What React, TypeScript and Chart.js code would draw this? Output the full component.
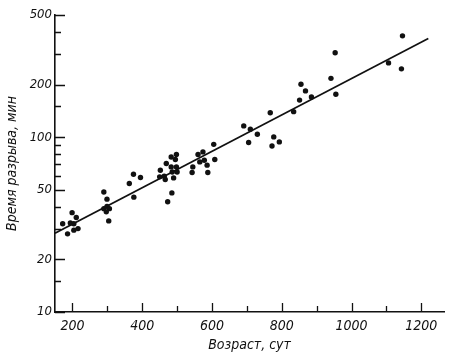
import React, { useEffect, useRef } from "react";
import { Chart, registerables } from "chart.js";

Chart.register(...registerables);

// Age (days) and rupture time (min)
const ageDays = [
  172, 199, 211, 194, 204, 216, 204, 186,
  290, 299, 290, 299, 306, 297, 304,
  363, 375, 395, 376,
  452, 450, 463, 469, 483, 498, 495, 483, 498, 486, 500, 466, 490, 485, 473,
  543, 545, 560, 574, 565, 578, 586, 588, 605, 608,
  691, 710, 705, 730, 767, 777, 793, 772, 834, 855, 868, 851, 885, 941, 953, 955,
  1106, 1146, 1143,
];
const ruptureMin = [
  32, 37, 34.7, 32.3, 32, 30, 29.4, 28,
  48.6, 44.2, 39, 40.2, 39, 37.4, 33.2,
  54.3, 61.4, 58.8, 45.4,
  64.7, 59.3, 59.8, 70.7, 77, 79.6, 74.5, 67.6, 67.6, 63.2, 63.2, 57.3, 58.5, 48, 42.7,
  62.8, 67.6, 79.6, 82.4, 72.2, 73.8, 69.2, 62.8, 91, 74.5,
  116, 111, 93.2, 104, 138, 100.4, 94, 89, 140, 201, 184, 163, 170, 217, 304, 176,
  266, 380, 246,
];

// Regression line end points
const fitX = [150, 1220];
const fitY = [28.2, 367];

// Tick values
const xMajorTicks = [200, 400, 600, 800, 1000, 1200];
const xMinorTicks = [300, 500, 700, 900, 1100];
const yMajorTicks = [10, 20, 50, 100, 200, 500];
const yMinorTicks = [15, 30, 40, 60, 70, 80, 90, 150, 300, 400];

const INK = "#111111";
const FONT = "'Liberation Sans Narrow', 'DejaVu Sans Condensed', sans-serif";

const inwardTicks = {
  id: "inwardTicks",
  afterDraw(chart: any) {
    const { ctx, chartArea } = chart;
    const xs = chart.scales.x;
    const ys = chart.scales.y;
    ctx.save();
    ctx.strokeStyle = INK;
    ctx.lineWidth = 1.3;
    ctx.beginPath();
    const b = chartArea.bottom;
    xMajorTicks.forEach((v) => {
      const px = Math.round(xs.getPixelForValue(v)) + 0.5;
      ctx.moveTo(px, b);
      ctx.lineTo(px, b - 9);
    });
    xMinorTicks.forEach((v) => {
      const px = Math.round(xs.getPixelForValue(v)) + 0.5;
      ctx.moveTo(px, b);
      ctx.lineTo(px, b - 6);
    });
    const l = chartArea.left;
    yMajorTicks.forEach((v) => {
      const py = Math.round(ys.getPixelForValue(v)) + 0.5;
      ctx.moveTo(l, py);
      ctx.lineTo(l + 10, py);
    });
    yMinorTicks.forEach((v) => {
      const py = Math.round(ys.getPixelForValue(v)) + 0.5;
      ctx.moveTo(l, py);
      ctx.lineTo(l + 6, py);
    });
    ctx.stroke();
    ctx.restore();
  },
};

export default function App() {
  const ref = useRef<HTMLCanvasElement>(null);

  useEffect(() => {
    document.body.style.margin = "0";
    const canvas = ref.current;
    if (!canvas) return;
    const chart = new Chart(canvas, {
      type: "scatter",
      data: {
        datasets: [
          {
            type: "scatter",
            data: ageDays.map((x, i) => ({ x, y: ruptureMin[i] })),
            pointRadius: 2.7,
            pointBackgroundColor: INK,
            pointBorderWidth: 0,
          },
          {
            type: "line",
            data: fitX.map((x, i) => ({ x, y: fitY[i] })),
            borderColor: INK,
            borderWidth: 1.7,
            pointRadius: 0,
            fill: false,
          },
        ],
      } as any,
      options: {
        responsive: false,
        animation: false,
        layout: { padding: { top: 15, right: 6, left: 0, bottom: 0 } },
        plugins: { legend: { display: false }, tooltip: { enabled: false } },
        scales: {
          x: {
            type: "linear",
            min: 150,
            max: 1265,
            afterFit: (s: any) => {
              s.height = 43;
            },
            afterBuildTicks: (s: any) => {
              s.ticks = xMajorTicks.map((v) => ({ value: v }));
            },
            grid: { display: true, drawOnChartArea: false, drawTicks: false },
            border: { display: true, color: INK, width: 1.6 },
            ticks: {
              color: INK,
              padding: 6,
              maxRotation: 0,
              font: { family: FONT, size: 14, style: "italic" },
              callback: (v: any) => String(v),
            },
            title: {
              display: true,
              text: "Возраст, сут",
              color: INK,
              padding: { top: 0, bottom: 1 },
              font: { family: FONT, size: 14, style: "italic" },
            },
          },
          y: {
            type: "logarithmic",
            min: 10,
            max: 500,
            afterFit: (s: any) => {
              s.width = 55;
            },
            afterBuildTicks: (s: any) => {
              s.ticks = yMajorTicks.map((v) => ({ value: v }));
            },
            grid: { display: true, drawOnChartArea: false, drawTicks: false },
            border: { display: true, color: INK, width: 1.6 },
            ticks: {
              color: INK,
              padding: 3,
              font: { family: FONT, size: 13, style: "italic" },
              callback: (v: any) => String(v),
            },
            title: {
              display: true,
              text: "Время разрыва, мин",
              color: INK,
              padding: { top: 4, bottom: 0 },
              font: { family: FONT, size: 14, style: "italic" },
            },
          },
        },
      },
      plugins: [inwardTicks],
    });
    return () => chart.destroy();
  }, []);

  return <canvas ref={ref} width={450} height={355} />;
}
